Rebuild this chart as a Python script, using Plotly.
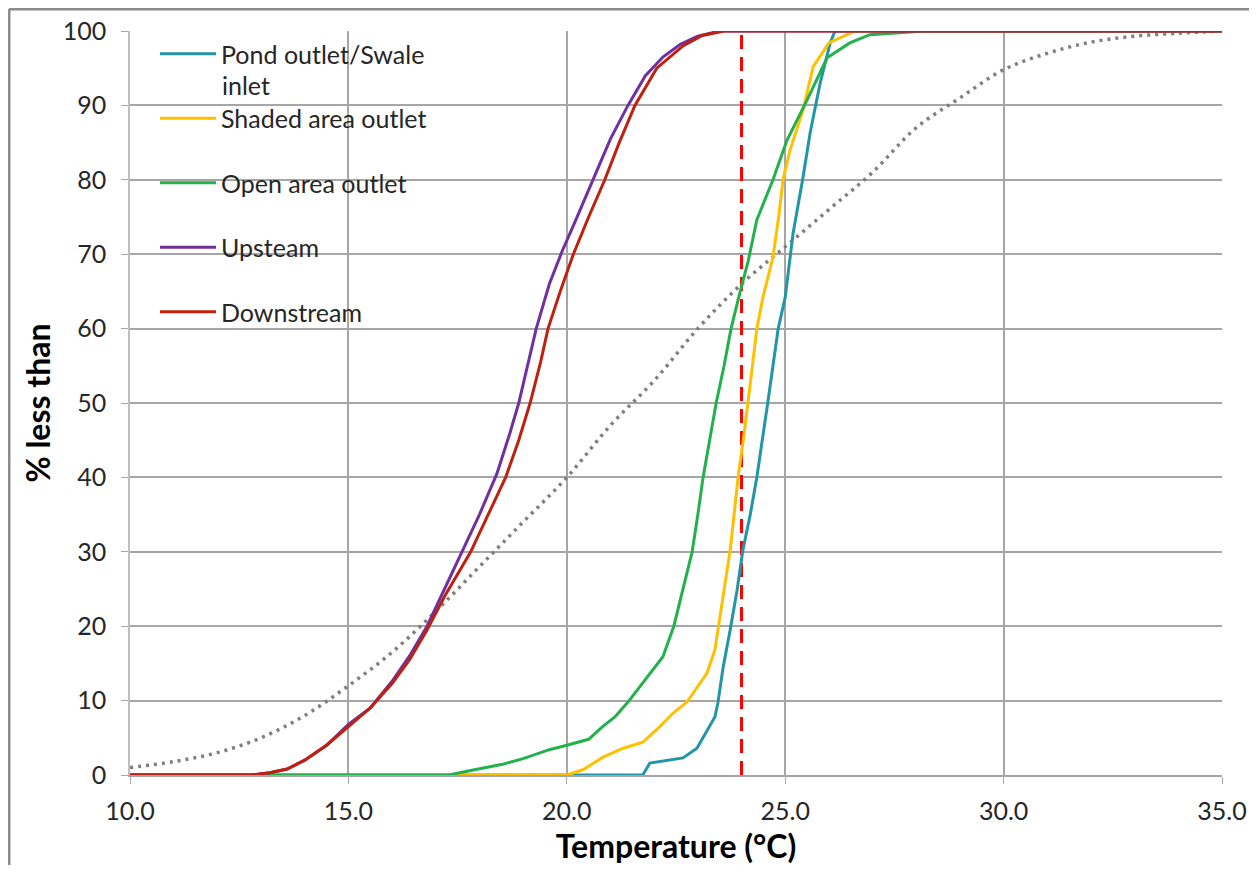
import plotly.graph_objects as go

# ---------------- data ----------------
pond_T = [10.0, 21.74, 21.9, 22.3, 22.66, 22.98, 23.21, 23.39, 23.46, 23.58, 23.74, 23.9, 24.03, 24.2, 24.35,
          24.48, 24.6, 24.72, 24.84, 25.0, 25.18, 25.41, 25.57, 25.8, 26.03, 26.14, 35.0]
pond_P = [0, 0, 1.6, 2.0, 2.3, 3.6, 6.0, 7.8, 9.7, 14.5, 19.5, 24.9, 30.2, 35, 40,
          45, 50, 55, 60, 64.2, 72.8, 80.4, 86.3, 93, 98.4, 100, 100]

shaded_T = [10.0, 20.0, 20.37, 20.6, 20.83, 21.29, 21.74, 22.13, 22.43, 22.75, 22.98, 23.21, 23.39, 23.5, 23.62,
            23.74, 23.83, 23.92, 24.04, 24.15, 24.25, 24.35, 24.49, 24.72, 24.85, 24.95, 25.11, 25.41, 25.64,
            26.0, 26.48, 26.6, 35.0]
shaded_P = [0, 0, 0.7, 1.5, 2.4, 3.6, 4.4, 6.5, 8.3, 9.8, 11.8, 13.7, 16.8, 21.2, 25.8,
            30.2, 35, 40, 45, 50, 55, 60, 64.2, 69.6, 75, 80, 84, 89.4, 95.2,
            98.4, 99.7, 100, 100]

open_T = [10.0, 17.3, 17.8, 18.5, 19.0, 19.6, 20.0, 20.5, 20.8, 21.1, 21.4, 21.85, 22.2, 22.45, 22.66, 22.87,
          23.0, 23.12, 23.27, 23.42, 23.6, 23.76, 23.97, 24.15, 24.35, 24.72, 25.04, 25.5, 25.96, 26.48,
          26.94, 28.2, 35.0]
open_P = [0, 0, 0.6, 1.4, 2.2, 3.4, 4.0, 4.8, 6.4, 7.8, 9.8, 13.2, 15.9, 20, 25, 30,
          35, 40, 45, 50, 55, 60, 65, 69, 74.6, 80, 85.3, 90.7, 96.4, 98.4,
          99.5, 100, 100]

up_T = [10.0, 12.8, 13.2, 13.6, 14.0, 14.5, 15.0, 15.5, 16.0, 16.4, 16.8, 17.2, 17.6, 18.0, 18.4, 18.7, 18.9,
        19.1, 19.3, 19.6, 19.9, 20.2, 20.6, 21.0, 21.4, 21.8, 22.2, 22.6, 23.0, 23.5, 35.0]
up_P = [0, 0, 0.3, 0.8, 2.0, 4.0, 6.8, 9.0, 12.6, 16, 20, 25, 30, 35, 40.5, 46, 50,
        55, 60, 66, 70.5, 74.5, 80, 85.5, 90, 94, 96.5, 98.2, 99.3, 100, 100]

down_T = [10.0, 12.8, 13.2, 13.6, 14.0, 14.5, 15.0, 15.5, 16.0, 16.4, 16.8, 17.2, 17.8, 18.2, 18.6, 18.9, 19.16,
          19.4, 19.57, 19.85, 20.15, 20.5, 20.87, 21.2, 21.56, 22.06, 22.66, 23.1, 23.6, 35.0]
down_P = [0, 0, 0.3, 0.8, 2.0, 4.0, 6.5, 9.0, 12.3, 15.5, 19.5, 24, 30, 35, 40, 45, 50,
          55.5, 60, 65, 70, 75, 80, 85, 90, 95, 98, 99.4, 100, 100]

ref_T = [10, 11, 12, 13, 14, 15, 16, 17, 18, 19, 20, 21, 22, 23, 24, 25, 26, 27, 28, 29, 30, 31, 32, 33, 34, 35]
ref_P = [1, 1.8, 3, 5, 8, 12, 16.5, 22, 28, 34, 40, 47, 53, 60, 66, 71, 76, 81, 87, 91, 94.8, 97, 98.5, 99.3, 99.7, 100]

threshold_T = 24.0

series_names = ["Pond outlet/Swale", "Shaded area outlet", "Open area outlet", "Upsteam", "Downstream"]
series_T = [pond_T, shaded_T, open_T, up_T, down_T]
series_P = [pond_P, shaded_P, open_P, up_P, down_P]
series_colors = ["#2196A6", "#FFC000", "#22B14C", "#7030A0", "#C0200F"]

x_ticks = [10, 15, 20, 25, 30, 35]
y_ticks = [0, 10, 20, 30, 40, 50, 60, 70, 80, 90, 100]

FONT = "Lato"
W, H = 1241, 857
ML, MT, MR, MB = 122, 23, 27, 90
PW, PH = W - ML - MR, H - MT - MB

fig = go.Figure()

# reference distribution (dotted) and threshold (dashed)
fig.add_trace(go.Scatter(x=ref_T, y=ref_P, mode="lines",
                         line=dict(color="#7F7F7F", width=3.5, dash="3px,5px", shape="spline"),
                         showlegend=False, hoverinfo="skip"))
fig.add_trace(go.Scatter(x=[threshold_T, threshold_T], y=[0, 100], mode="lines",
                         line=dict(color="#FF0000", width=3, dash="14px,8px"), showlegend=False, hoverinfo="skip"))

for i, (name, xs, ys, col) in enumerate(zip(series_names, series_T, series_P, series_colors)):
    fig.add_trace(go.Scatter(x=xs, y=ys, mode="lines", name=name, legendgroup=f"g{i}",
                             line=dict(color=col, width=3)))


def px_x(sx):
    return (sx - 8 - ML) / PW


def px_y(sy):
    return (H - MB - (sy - 8)) / PH


fig.update_layout(
    width=W, height=H,
    margin=dict(l=ML, r=MR, t=MT, b=MB, autoexpand=False),
    paper_bgcolor="white", plot_bgcolor="white",
    font=dict(family=FONT, size=25, color="#262626"),
    showlegend=True,
    legend=dict(x=px_x(155), y=1.0, xanchor="left", yanchor="top", bgcolor="rgba(0,0,0,0)",
                traceorder="grouped", tracegroupgap=29, itemwidth=56,
                font=dict(family=FONT, size=25, color="#262626")),
    xaxis=dict(range=[10, 35], tickvals=x_ticks, ticktext=[f"{v:.1f}" for v in x_ticks],
               showgrid=True, gridcolor="#A6A6A6", gridwidth=1.5, automargin=False,
               ticks="outside", ticklen=7, tickcolor="#A6A6A6", ticklabelstandoff=6,
               showline=True, linecolor="#A6A6A6", linewidth=1.5, zeroline=False,
               tickfont=dict(size=25, color="#262626"),
               title=dict(text="<b>Temperature (°C)</b>", font=dict(size=32, color="black"), standoff=17)),
    yaxis=dict(range=[0, 100], tickvals=y_ticks,
               showgrid=True, gridcolor="#A6A6A6", gridwidth=1.5, automargin=False,
               ticks="outside", ticklen=7, tickcolor="#A6A6A6", ticklabelstandoff=10,
               showline=True, linecolor="#BFBFBF", linewidth=1.5, zeroline=False,
               tickfont=dict(size=25, color="#262626"),
               title=dict(text="<b>% less than</b>", font=dict(size=32, color="black"), standoff=3)),
    annotations=[
        dict(text="inlet", xref="paper", yref="paper", x=px_x(220), y=px_y(85), xanchor="left", yanchor="middle",
             showarrow=False, font=dict(family=FONT, size=25, color="#262626")),
    ],
    shapes=[
        # white box behind the legend hiding the grid
        dict(type="rect", xref="paper", yref="paper", x0=px_x(140), x1=px_x(455), y0=px_y(360), y1=px_y(36),
             fillcolor="white", line=dict(width=0), layer="between"),
        # outer frame
        dict(type="line", xref="paper", yref="paper", x0=px_x(9), x1=px_x(9), y0=px_y(873), y1=px_y(9),
             line=dict(color="#8C8C8C", width=3)),
        dict(type="line", xref="paper", yref="paper", x0=px_x(9), x1=px_x(1257), y0=px_y(9), y1=px_y(9),
             line=dict(color="#8C8C8C", width=3)),
    ],
)

fig.write_html("out.html")
